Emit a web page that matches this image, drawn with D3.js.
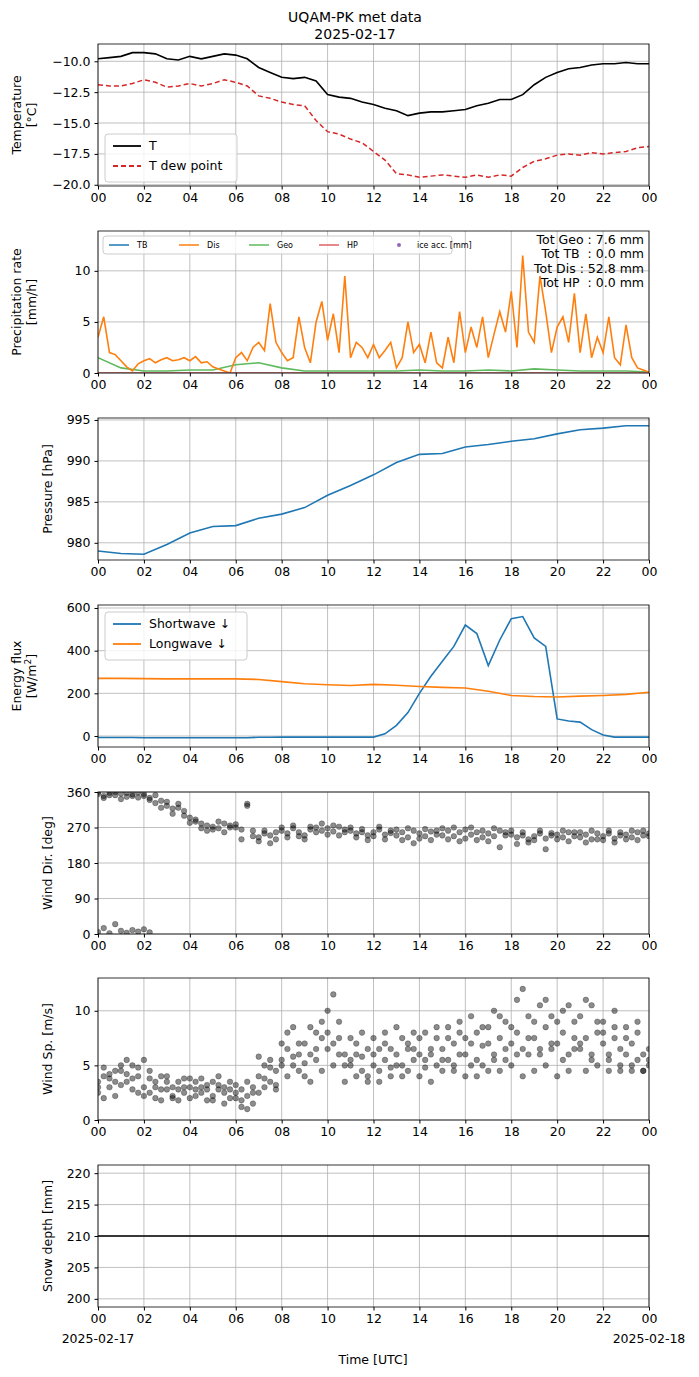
<!DOCTYPE html>
<html><head><meta charset="utf-8">
<script src="https://cdn.jsdelivr.net/npm/d3@7"></script>
<style>body{margin:0;background:#fff}svg{font-family:"DejaVu Sans",sans-serif}</style>
</head><body><svg id="c" width="699" height="1377"></svg>
<script>
// half-hourly temperature, hours 0..24
var tempT = [-9.8,-9.7,-9.6,-9.3,-9.3,-9.4,-9.8,-9.9,-9.6,-9.8,-9.6,-9.4,-9.5,-9.8,-10.5,-10.9,-11.3,-11.4,-11.3,-11.6,-12.7,-12.9,-13.0,-13.3,-13.5,-13.8,-14.0,-14.4,-14.2,-14.1,-14.1,-14.0,-13.9,-13.6,-13.4,-13.1,-13.1,-12.7,-11.9,-11.3,-10.9,-10.6,-10.5,-10.3,-10.2,-10.2,-10.1,-10.2,-10.2];
var tempDew = [-11.9,-12.0,-12.0,-11.8,-11.5,-11.7,-12.1,-12.0,-11.8,-12.0,-11.8,-11.5,-11.7,-12.0,-12.8,-13.0,-13.3,-13.5,-13.6,-14.8,-15.7,-15.9,-16.3,-16.6,-17.3,-18.0,-19.1,-19.2,-19.4,-19.3,-19.2,-19.3,-19.4,-19.2,-19.4,-19.2,-19.3,-18.6,-18.1,-17.9,-17.6,-17.5,-17.6,-17.4,-17.5,-17.4,-17.3,-17.0,-16.9];
// 15-min precipitation rate (Dis), hourly Geo
var precipDis = [3.5,5.5,2.0,1.8, 1.2,0.6,0.2,0.9, 1.2,1.4,1.0,1.3, 1.5,1.2,1.3,1.5, 1.2,1.6,1.0,1.1, 0.6,0.4,0.2,0.0,
  1.5,2.0,1.2,2.5, 3.0,2.2,6.8,3.0, 2.0,1.2,1.5,5.5, 2.5,1.0,5.0,7.0, 3.2,5.8,2.0,9.5, 1.5,3.0,2.5,1.5,
  2.8,1.5,2.2,3.0, 0.5,1.5,5.0,2.0, 2.8,1.0,4.0,1.0, 0.5,3.5,1.0,6.0, 2.0,4.5,2.5,5.5, 1.5,3.8,6.0,4.0,
  8.0,2.5,11.5,4.0, 3.0,9.5,6.0,2.0, 4.5,5.5,3.0,7.8, 2.0,5.8,1.5,3.5, 2.0,5.5,1.5,0.8, 4.7,1.5,0.5,0.3, 0.1];
var precipGeo = [1.5,0.5,0.2,0.2,0.3,0.3,0.8,1.0,0.5,0.2,0.2,0.2,0.2,0.2,0.3,0.2,0.2,0.3,0.2,0.4,0.3,0.2,0.2,0.2,0.1];
var precipTotals = ["Tot Geo : 7.6 mm","Tot TB  : 0.0 mm","Tot Dis : 52.8 mm","Tot HP  : 0.0 mm"];
// hourly pressure
var pressure = [979.0,978.7,978.6,979.8,981.2,982.0,982.1,983.0,983.5,984.3,985.8,987.0,988.3,989.8,990.8,990.9,991.7,992.0,992.4,992.7,993.3,993.8,994.0,994.3,994.3];
// half-hourly shortwave, hourly longwave
var shortwave = [-7,-7,-7,-7,-8,-8,-8,-8,-8,-8,-8,-8,-8,-8,-6,-6,-5,-5,-5,-5,-5,-5,-5,-5,-5,10,50,110,200,280,350,420,520,480,330,450,550,560,460,420,80,70,65,30,5,-5,-5,-5,-5];
var longwave = [270,270,269,268,268,268,268,265,255,245,240,237,242,238,232,228,225,210,190,185,183,187,190,195,205];
// 15-min wind direction samples
var windDirA = [355,350,358,352,356,348,354,359,350,345,352,338,325,318,330,312,295,285,280,275,272,268,280,275,270,265,330,262,245,255,250,240,262,255,268,258,250,265,270,262,268,260,272,258,262,255,266,250,258,265,252,262,250,258,245,262,255,248,260,252,250,262,248,258,265,252,258,245,255,248,262,250,252,245,258,240,248,255,242,250,252,245,258,248,245,252,240,255,248,255,242,250,252,245,258,250,255];
var windDirB = [360,345,352,360,342,358,350,346,355,340,332,320,335,305,320,300,282,290,268,262,265,285,258,270,278,240,325,248,235,262,230,258,270,245,275,248,240,272,258,280,252,275,250,265,270,245,258,238,248,272,240,256,265,238,268,230,242,266,238,262,268,240,270,235,242,270,238,262,235,268,220,258,262,228,250,232,238,262,215,256,240,262,235,258,258,232,262,240,238,262,232,258,240,262,238,262,248];
var windDirLow = [5,15,2,25,8,3,10,6,12,4];
// 15-min wind speed samples
var windSpA = [3.5,4.0,3.0,4.5,5.0,4.2,3.8,4.8,3.0,2.5,3.5,4.0,2.8,2.2,3.5,2.5,3.0,3.5,2.5,3.2,3.5,2.8,3.0,2.0,2.5,1.8,2.2,3.0,4.0,5.0,3.5,4.5,5.5,6.5,5.0,4.5,4.0,6.0,5.5,7.5,8.0,7.0,6.0,5.0,5.5,6.0,4.5,6.5,5.0,6.5,5.5,4.8,6.0,5.0,7.0,5.5,6.0,5.5,6.5,5.0,6.5,5.5,7.0,6.0,6.0,7.0,5.5,6.8,7.0,6.0,7.5,6.5,7.0,8.0,6.5,7.5,7.5,6.5,8.5,7.0,7.0,8.0,6.0,7.5,6.5,7.5,6.0,8.0,7.0,6.0,7.5,6.5,6.0,7.0,5.5,6.0,5.5];
var windSpB = [2.5,4.8,3.8,2.2,3.2,5.5,2.8,4.0,5.5,3.8,2.0,2.8,4.0,3.0,1.8,3.8,2.0,2.8,3.8,1.8,2.2,4.0,1.5,3.5,3.2,1.2,3.5,1.5,2.5,3.0,5.5,2.8,7.0,4.0,8.5,6.0,7.0,3.5,8.0,4.5,10.0,5.0,9.0,3.5,7.5,4.0,8.0,4.0,7.5,3.5,8.0,4.0,8.5,4.0,6.5,8.0,4.0,8.0,3.5,7.5,4.5,8.5,4.5,8.0,4.0,9.5,4.0,8.5,4.5,10.0,4.5,9.0,5.0,11.0,4.0,9.5,4.5,10.5,5.0,9.5,4.0,10.0,4.5,9.0,9.5,4.5,10.5,5.0,9.0,4.5,8.5,4.5,8.5,4.5,9.0,4.5,6.5];
var windSpC = [3.0,2.0,4.2,3.5,4.5,3.5,5.0,2.5,2.2,4.5,3.0,1.8,3.5,2.0,2.8,3.0,3.8,2.2,3.0,2.8,1.8,3.2,2.5,2.8,2.0,2.8,1.0,2.5,5.8,3.8,4.8,3.2,5.0,8.0,5.8,7.0,5.2,8.5,6.5,9.0,6.5,11.5,7.5,6.0,5.0,7.0,5.8,3.5,6.0,4.5,7.0,6.5,5.0,7.5,4.5,6.5,7.5,4.8,6.0,8.5,5.5,7.5,5.0,9.0,7.5,5.0,8.0,5.0,8.5,5.5,9.5,5.5,8.5,6.0,12.0,6.0,9.0,6.0,11.0,6.5,9.0,5.5,10.5,6.5,7.0,11.0,5.5,9.0,8.0,5.5,10.0,5.0,7.5,5.0,8.0,4.5,5.0];
var snowDepth = [210,210];
var hourTicks = [0,2,4,6,8,10,12,14,16,18,20,22,24];

var svg = d3.select("#c");
var L = 98, R = 649;
var x = d3.scaleLinear().domain([0,24]).range([L,R]);
var C = {blue:"#1f77b4",orange:"#ff7f0e",green:"#2ca02c",red:"#d62728",purple:"#9467bd",grid:"#b0b0b0"};

function t(arr, step){ return arr.map(function(v,i){ return [i*step, v]; }); }

function panel(top, bot, domain, ticks, fmt, label){
  var y = d3.scaleLinear().domain(domain).range([bot, top]);
  var g = svg.append("g");
  g.append("g").selectAll("line").data(hourTicks).join("line")
    .attr("x1",d=>x(d)).attr("x2",d=>x(d)).attr("y1",top).attr("y2",bot).attr("stroke",C.grid).attr("stroke-width",0.8);
  g.append("g").selectAll("line").data(ticks).join("line")
    .attr("x1",L).attr("x2",R).attr("y1",d=>y(d)).attr("y2",d=>y(d)).attr("stroke",C.grid).attr("stroke-width",0.8);
  var clip = "clip"+top;
  svg.append("clipPath").attr("id",clip).append("rect").attr("x",L).attr("y",top).attr("width",R-L).attr("height",bot-top);
  var plot = g.append("g").attr("clip-path","url(#"+clip+")");
  var fg = svg.append("g");
  fg.append("rect").attr("x",L).attr("y",top).attr("width",R-L).attr("height",bot-top).attr("fill","none").attr("stroke","#000").attr("stroke-width",0.8);
  var xa = fg.append("g").attr("transform","translate(0,"+bot+")")
    .call(d3.axisBottom(x).tickValues(hourTicks).tickSize(3.5).tickPadding(4).tickFormat(d=>d3.format("02d")(d%24)));
  var ya = fg.append("g").attr("transform","translate("+L+",0)")
    .call(d3.axisLeft(y).tickValues(ticks).tickSize(3.5).tickPadding(4).tickFormat(fmt));
  [xa,ya].forEach(a=>{a.select(".domain").remove(); a.selectAll("text").attr("font-size",12.5).attr("font-family","DejaVu Sans");});
  var mid = (top+bot)/2;
  var lt = fg.append("text").attr("transform","translate("+(label.length>1?22:52)+","+mid+") rotate(-90)")
    .attr("text-anchor","middle").attr("font-size",12.5);
  label.forEach(function(s,i){
    lt.append("tspan").attr("x",0).attr("dy", i===0 ? (label.length>1?"-0.1em":"0") : "1.2em").html(s);
  });
  return {y:y, plot:plot, fg:fg};
}
function line(p, data, color, w, dash){
  p.plot.append("path").datum(data).attr("fill","none").attr("stroke",color).attr("stroke-width",w)
    .attr("stroke-dasharray",dash||null)
    .attr("d",d3.line().x(d=>x(d[0])).y(d=>p.y(d[1])));
}
function dots(p, data){
  p.plot.append("g").selectAll("circle").data(data).join("circle")
    .attr("cx",d=>x(d[0])).attr("cy",d=>p.y(d[1])).attr("r",2.8)
    .attr("fill","#000").attr("fill-opacity",0.45).attr("stroke","#000").attr("stroke-opacity",0.5).attr("stroke-width",0.5);
}
function legend(p, x0, y0, w, items, fs, dy, lw, horiz){
  var g = p.fg.append("g");
  var h = horiz ? dy : items.length*dy+8;
  g.append("rect").attr("x",x0).attr("y",y0).attr("width",w).attr("height",h).attr("rx",3)
    .attr("fill","#fff").attr("fill-opacity",0.8).attr("stroke","#ccc");
  items.forEach(function(it,i){
    var cx = horiz ? x0+6+i*70 : x0+8;
    var cy = horiz ? y0+dy/2 : y0+12+i*dy;
    if(it.dot) g.append("circle").attr("cx",cx+lw/2).attr("cy",cy).attr("r",2).attr("fill",it.c);
    else g.append("line").attr("x1",cx).attr("x2",cx+lw).attr("y1",cy).attr("y2",cy).attr("stroke",it.c).attr("stroke-width",horiz?1.5:1.8).attr("stroke-dasharray",it.dash||null);
    g.append("text").attr("x",cx+lw+8).attr("y",cy).attr("dy","0.35em").attr("font-size",fs).html(it.n);
  });
}

svg.append("text").attr("x",355).attr("y",22).attr("text-anchor","middle").attr("font-size",14).text("UQAM-PK met data");
svg.append("text").attr("x",355).attr("y",39).attr("text-anchor","middle").attr("font-size",14).text("2025-02-17");

var p1 = panel(44,186,[-20.1,-8.6],[-20,-17.5,-15,-12.5,-10],d3.format(".1f"),["Temperature","[°C]"]);
line(p1,t(tempT,0.5),"#000",1.6);
line(p1,t(tempDew,0.5),C.red,1.5,"5,3");
legend(p1,105,134,132,[{n:"T",c:"#000"},{n:"T dew point",c:C.red,dash:"5,3"}],12.5,20,28);

var p2 = panel(231,373,[0,13.9],[0,5,10],d3.format("d"),["Precipitation rate","[mm/h]"]);
line(p2,t(precipGeo,1),"#5fba5f",1.6);
line(p2,t(precipDis,0.25),C.orange,1.6);
line(p2,[[0,0],[24,0]],"#e06060",1.6);
legend(p2,103,236,349,[{n:"TB",c:C.blue},{n:"Dis",c:C.orange},{n:"Geo",c:"#5fba5f"},{n:"HP",c:"#e06060"},{n:"ice acc. [mm]",c:C.purple,dot:true}],8,18,20,true);
p2.fg.selectAll(".tot").data(precipTotals).join("text").attr("x",644).attr("y",(d,i)=>244+i*14.3)
  .attr("text-anchor","end").attr("font-size",12.5).attr("xml:space","preserve").text(d=>d);

var p3 = panel(418,560,[977.9,995.24],[980,985,990,995],d3.format("d"),["Pressure [hPa]"]);
line(p3,t(pressure,1),C.blue,1.6);

var p4 = panel(605,747,[-51.5,614],[0,200,400,600],d3.format("d"),["Energy flux","[W/m<tspan dy='-5' font-size='9'>2</tspan><tspan dy='5'>]</tspan>"]);
line(p4,t(shortwave,0.5),C.blue,1.6);
line(p4,t(longwave,1),C.orange,1.6);
legend(p4,105,612,142,[{n:"Shortwave  ↓",c:C.blue},{n:"Longwave  ↓",c:C.orange}],12.5,20,28);

var p5 = panel(792,934,[0,360],[0,90,180,270,360],d3.format("d"),["Wind Dir. [deg]"]);
dots(p5,t(windDirA,0.25)); dots(p5,t(windDirB,0.25)); dots(p5,t(windDirLow,0.25));

var p6 = panel(978,1120,[0,13],[0,5,10],d3.format("d"),["Wind Sp. [m/s]"]);
dots(p6,t(windSpA,0.25)); dots(p6,t(windSpB,0.25)); dots(p6,t(windSpC,0.25));

var p7 = panel(1165,1307,[198.7,221.3],[200,205,210,215,220],d3.format("d"),["Snow depth [mm]"]);
line(p7,t(snowDepth,24),"#000",1.6);
p7.fg.append("text").attr("x",x(0)).attr("y",1343).attr("text-anchor","middle").attr("font-size",12.5).text("2025-02-17");
p7.fg.append("text").attr("x",x(24)).attr("y",1343).attr("text-anchor","middle").attr("font-size",12.5).text("2025-02-18");
svg.append("text").attr("x",373).attr("y",1364).attr("text-anchor","middle").attr("font-size",12.5).text("Time [UTC]");
</script></body></html>
